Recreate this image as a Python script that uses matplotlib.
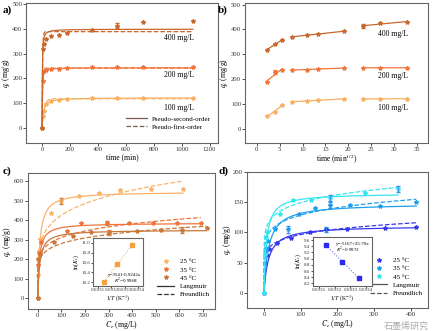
import numpy as np
import matplotlib
matplotlib.use("Agg")
import matplotlib.pyplot as plt
from matplotlib.lines import Line2D

plt.rcParams["font.family"] = ["Liberation Serif", "DejaVu Serif"]
plt.rcParams["mathtext.fontset"] = "stix"

# ---------------- DATA: kinetics (a, b) ----------------
t_min = np.array([0, 5, 15, 30, 60, 120, 180, 360, 540, 720, 1080])
q_100 = np.array([0, 50, 68, 95, 108, 113, 116, 120, 120, 121, 121])
q_200 = np.array([0, 188, 228, 235, 236, 238, 242, 244, 246, 245, 246])
q_400 = np.array([0, 318, 340, 357, 371, 376, 381, 393, 412, 426, 430])
conc_labels = ["100 mg/L", "200 mg/L", "400 mg/L"]
# model parameters (qe, k) read so the curves sit on the picture
pso_qe = [122, 243, 398]
pso_k = [0.00096, 0.0028, 0.002]
pfo_qe = [118, 241, 388]
pfo_k = [0.07, 0.3, 0.3]
segments = [(1, 4), (4, 8), (8, 11)]

# ---------------- DATA: isotherms (c) ----------------
ce_c25 = np.array([0, 1.5, 4, 11, 55, 100, 175, 260, 350, 480, 615])
qe_c25 = np.array([0, 120, 240, 305, 437, 497, 525, 540, 556, 558, 560])
ce_c35 = np.array([0, 2, 6, 15, 125, 185, 295, 385, 490, 590, 690])
qe_c35 = np.array([0, 170, 230, 290, 345, 383, 385, 383, 385, 385, 385])
ce_c45 = np.array([0, 3, 10, 70, 150, 225, 300, 420, 520, 610, 715])
qe_c45 = np.array([0, 200, 225, 290, 320, 340, 335, 345, 350, 350, 358])
lang_c = [(545, 0.12), (385, 0.15), (350, 0.12)]
freu_c = [(177, 0.19), (158, 0.147), (147, 0.14)]

# ---------------- DATA: isotherms (d) ----------------
ce_d25 = np.array([0, 3, 8, 15, 35, 75, 125, 170, 225, 330, 415])
qe_d25 = np.array([0, 50, 62, 72, 83, 90, 100, 105, 106, 108, 109])
ce_d35 = np.array([0, 5, 12, 30, 65, 95, 140, 180, 235, 315, 415])
qe_d35 = np.array([0, 75, 85, 105, 105, 130, 140, 145, 145, 143, 150])
ce_d45 = np.array([0, 2, 5, 9, 45, 79, 129, 179, 275, 365])
qe_d45 = np.array([0, 65, 93, 100, 131, 153, 154, 157, 165, 172])
lang_d = [(111, 0.08), (148, 0.08), (165, 0.15)]
freu_d = [(53, 0.13), (70.8, 0.13), (86, 0.12)]

temp_labels = ["25 \u00b0C", "35 \u00b0C", "45 \u00b0C"]
inv_T = np.array([0.003143, 0.003245, 0.003354])
lnkc_c = np.array([10.20, 10.58, 10.95])
lnkc_d = np.array([9.45, 8.90, 8.38])

col_a = ["#f8b060", "#f2743a", "#c8672e"]
col_c = ["#fbb36a", "#f0743c", "#c8783a"]
col_d = ["#3838f0", "#1fa0ec", "#35e6f0"]

FS_TICK = 4.8
FS_LAB = 5.5


def style(ax, fs=FS_TICK, ln=2):
    for s in ax.spines.values():
        s.set_color("#666666")
        s.set_linewidth(0.8)
    ax.tick_params(direction="out", length=ln, width=0.6, labelsize=fs,
                   colors="#333333", pad=0.8)


fig = plt.figure(figsize=(4.35, 3.31), dpi=100)
ax_a = fig.add_axes([0.06, 0.568, 0.441, 0.422])
ax_b = fig.add_axes([0.563, 0.568, 0.421, 0.422])
ax_c = fig.add_axes([0.064, 0.066, 0.430, 0.411])
ax_d = fig.add_axes([0.568, 0.070, 0.416, 0.410])

# ---------------- a) ----------------
tt = np.linspace(0, 1080, 800)
for q, c, qe2, k2, qe1, k1 in zip([q_100, q_200, q_400], col_a,
                                  pso_qe, pso_k, pfo_qe, pfo_k):
    ax_a.plot(tt, qe2 ** 2 * k2 * tt / (1 + qe2 * k2 * tt), color=c, lw=0.9)
    ax_a.plot(tt, qe1 * (1 - np.exp(-k1 * tt)), color=c, lw=0.9, ls="--")
    ax_a.plot(t_min, q, ls="none", marker="*", ms=3, color=c)
ax_a.errorbar([540], [412], yerr=[10], fmt="none", ecolor=col_a[2], elinewidth=0.6, capsize=1.2)
ax_a.text(1090, 363, conc_labels[2], fontsize=FS_LAB, ha="right", va="center")
ax_a.text(1090, 214, conc_labels[1], fontsize=FS_LAB, ha="right", va="center")
ax_a.text(1090, 81, conc_labels[0], fontsize=FS_LAB, ha="right", va="center")
ax_a.set_xlim(-115, 1260)
ax_a.set_ylim(-60, 502)
ax_a.set_xticks(range(0, 1201, 200))
ax_a.set_yticks(range(0, 501, 100))
ax_a.set_xlabel("time (min)", fontsize=FS_LAB, labelpad=1)
ax_a.set_ylabel("$q_t$ (mg/g)", fontsize=FS_LAB, labelpad=0.3)
h_a = [Line2D([], [], color="#7a5a4a", lw=0.9),
       Line2D([], [], color="#7a5a4a", lw=0.9, ls="--")]
ax_a.legend(h_a, ["Pseudo-second-order", "Pseudo-first-order"], loc="lower right",
            bbox_to_anchor=(0.99, 0.06), fontsize=5, frameon=False,
            handlelength=3, labelspacing=0.3, borderpad=0.2)
style(ax_a)

# ---------------- b) ----------------
sqrt_t = np.sqrt(t_min)
for q, c in zip([q_100, q_200, q_400], col_a):
    for i0, i1 in segments:
        x, y = sqrt_t[i0:i1], q[i0:i1]
        p = np.polyfit(x, y, 1)
        ax_b.plot(x, np.polyval(p, x), color=c, lw=0.9)
        ax_b.plot(x, y, ls="none", marker="*", ms=3, color=c)
ax_b.errorbar([sqrt_t[2]], [q_200[2]], yerr=[7], fmt="none", ecolor=col_a[1], elinewidth=0.6, capsize=1.2)
ax_b.errorbar([sqrt_t[8]], [q_400[8]], yerr=[8], fmt="none", ecolor=col_a[2], elinewidth=0.6, capsize=1.2)
ax_b.text(26.5, 382, conc_labels[2], fontsize=FS_LAB, va="center")
ax_b.text(26.5, 211, conc_labels[1], fontsize=FS_LAB, va="center")
ax_b.text(26.5, 85, conc_labels[0], fontsize=FS_LAB, va="center")
ax_b.set_xlim(-2.6, 37.4)
ax_b.set_ylim(-57, 505)
ax_b.set_xticks(range(0, 36, 5))
ax_b.set_yticks(range(0, 501, 100))
ax_b.set_xlabel("time (min$^{1/2}$)", fontsize=FS_LAB, labelpad=1)
ax_b.set_ylabel("$q_t$ (mg/g)", fontsize=FS_LAB, labelpad=0.3)
style(ax_b)

# ---------------- c) ----------------
for ce, qe, c, (qm, kl), (kf, n1) in zip([ce_c25, ce_c35, ce_c45], [qe_c25, qe_c35, qe_c45],
                                          col_c, lang_c, freu_c):
    cc = np.linspace(0, ce.max(), 600)
    ax_c.plot(cc, qm * kl * cc / (1 + kl * cc), color=c, lw=0.9)
    ax_c.plot(cc, kf * cc ** n1, color=c, lw=0.9, ls="--")
    ax_c.plot(ce, qe, ls="none", marker="*", ms=3, color=c)
ax_c.errorbar([ce_c25[5], ce_c35[6], ce_c45[6], ce_c45[9]], [qe_c25[5], qe_c35[6], qe_c45[6], qe_c45[9]],
              yerr=[15, 12, 12, 15], fmt="none", ecolor="#d08040", elinewidth=0.6, capsize=1.2)
ax_c.set_xlim(-42, 750)
ax_c.set_ylim(-55, 640)
ax_c.set_xticks(range(0, 701, 100))
ax_c.set_yticks(range(0, 601, 100))
ax_c.set_xlabel("$C_e$ (mg/L)", fontsize=FS_LAB, labelpad=1)
ax_c.set_ylabel("$q_e$ (mg/g)", fontsize=FS_LAB, labelpad=0.3)
h_c = [Line2D([], [], ls="none", marker="*", ms=3, color=c) for c in col_c]
h_c += [Line2D([], [], color="#333333", lw=0.9), Line2D([], [], color="#333333", lw=0.9, ls="--")]
ax_c.legend(h_c, temp_labels + ["Langmuir", "Freundlich"], loc="lower right",
            bbox_to_anchor=(1.0, 0.05), fontsize=5, frameon=False,
            handlelength=2.5, labelspacing=0.35, borderpad=0.2)
style(ax_c)

# ---------------- d) ----------------
for ce, qe, c, (qm, kl), (kf, n1) in zip([ce_d25, ce_d35, ce_d45], [qe_d25, qe_d35, qe_d45],
                                          col_d, lang_d, freu_d):
    cc = np.linspace(0, ce.max(), 600)
    ax_d.plot(cc, qm * kl * cc / (1 + kl * cc), color=c, lw=0.9)
    ax_d.plot(cc, kf * cc ** n1, color=c, lw=0.9, ls="--")
    ax_d.plot(ce, qe, ls="none", marker="*", ms=3, color=c)
ax_d.errorbar([ce_d45[7], ce_d45[9], ce_d35[4], ce_d35[7], ce_d25[7]],
              [qe_d45[7], qe_d45[9], qe_d35[4], qe_d35[7], qe_d25[7]],
              yerr=[5, 5, 6, 5, 4], fmt="none", ecolor="#2a90e8", elinewidth=0.6, capsize=1.2)
ax_d.set_xlim(-46, 447)
ax_d.set_ylim(-25, 200)
ax_d.set_xticks(range(0, 401, 100))
ax_d.set_yticks(range(0, 201, 50))
ax_d.set_xlabel("$C_e$ (mg/L)", fontsize=FS_LAB, labelpad=1)
ax_d.set_ylabel("$q_e$ (mg/g)", fontsize=FS_LAB, labelpad=0.3)
h_d = [Line2D([], [], ls="none", marker="*", ms=3, color=c) for c in col_d]
h_d += [Line2D([], [], color="#555566", lw=0.9), Line2D([], [], color="#555566", lw=0.9, ls="--")]
ax_d.legend(h_d, temp_labels + ["Langmuir", "Freundlich"], loc="lower right",
            bbox_to_anchor=(1.0, 0.05), fontsize=5, frameon=False,
            handlelength=2.5, labelspacing=0.35, borderpad=0.2)
style(ax_d)

# ---------------- insets ----------------
FS_IN = 3.6
xx = np.linspace(inv_T.min(), inv_T.max(), 50)

in_c = fig.add_axes([0.214, 0.137, 0.115, 0.144])
p = np.polyfit(inv_T, lnkc_c, 1)
in_c.plot(xx, np.polyval(p, xx), color="#f8b060", lw=0.8, ls=":")
in_c.plot(inv_T, lnkc_c, ls="none", marker="s", ms=2.2, color="#f8a040")
in_c.set_xlim(0.003062, 0.003438)
in_c.set_ylim(10.13, 11.1)
in_c.set_xticks([0.0031, 0.0032, 0.0033, 0.0034])
in_c.set_xticklabels(["0.0031", "0.0032", "0.0033", "0.0034"])
in_c.set_yticks([10.2, 10.4, 10.6, 10.8, 11.0])
in_c.text(0.97, 0.2, "y=3541-0.9242x", transform=in_c.transAxes, fontsize=FS_IN, ha="right")
in_c.text(0.9, 0.05, "$R^2$=0.9968", transform=in_c.transAxes, fontsize=FS_IN, ha="right")
in_c.set_xlabel("1/$T$ (K$^{-1}$)", fontsize=4.2, labelpad=0.5)
in_c.set_ylabel("ln($K_c$)", fontsize=4.2, labelpad=0.5)
style(in_c, fs=FS_IN, ln=1.2)

in_d = fig.add_axes([0.72, 0.137, 0.135, 0.147])
p = np.polyfit(inv_T, lnkc_d, 1)
in_d.plot(xx, np.polyval(p, xx), color="#6a6af0", lw=0.8, ls=":")
in_d.plot(inv_T, lnkc_d, ls="none", marker="s", ms=2.2, color="#2a2af0")
in_d.set_xlim(0.003062, 0.003438)
in_d.set_ylim(8.13, 9.7)
in_d.set_xticks([0.0031, 0.0032, 0.0033, 0.0034])
in_d.set_xticklabels(["0.0031", "0.0032", "0.0033", "0.0034"])
in_d.set_yticks([8.2, 8.4, 8.6, 8.8, 9.0, 9.2, 9.4, 9.6])
in_d.text(0.97, 0.84, "y=-5167+25.70x", transform=in_d.transAxes, fontsize=FS_IN, ha="right")
in_d.text(0.8, 0.69, "$R^2$=0.9972", transform=in_d.transAxes, fontsize=FS_IN, ha="right")
in_d.set_xlabel("1/$T$ (K$^{-1}$)", fontsize=4.2, labelpad=0.5)
in_d.set_ylabel("ln($K_c$)", fontsize=4.2, labelpad=0.5)
style(in_d, fs=FS_IN, ln=1.2)

# panel letters
for x, y, s in [(0.005, 0.985, "a)"), (0.502, 0.985, "b)"), (0.005, 0.497, "c)"), (0.502, 0.497, "d)")]:
    fig.text(x, y, s, fontsize=8, fontweight="bold", va="top")

fig.text(0.985, 0.008, "石墨烯研究", fontsize=6.5, color="#9a9a9a", ha="right",
         family=["Noto Sans CJK SC", "DejaVu Sans"], alpha=0.8)

fig.savefig("out.png", dpi=100)
